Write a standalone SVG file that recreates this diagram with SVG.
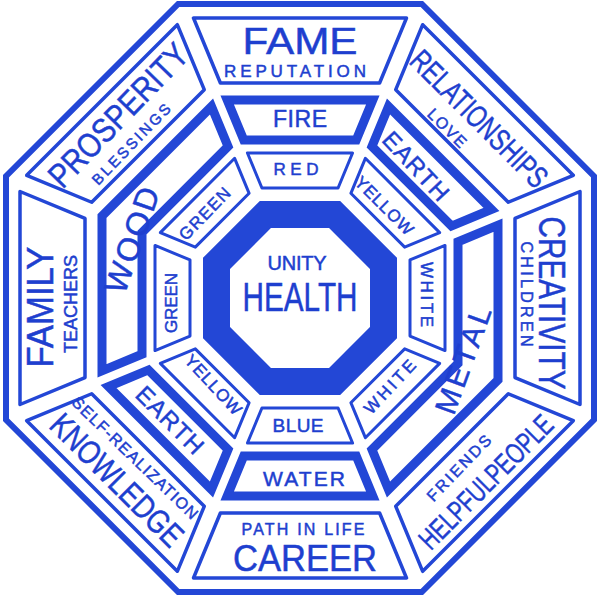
<svg xmlns="http://www.w3.org/2000/svg" width="600" height="602" viewBox="0 0 600 602">
<style>
.border{fill:none;stroke:#2347d6;stroke-width:6;stroke-linejoin:miter}
.outer{fill:#fff;stroke:#2347d6;stroke-width:3.5;stroke-linejoin:round}
.elem{fill:#fff;stroke:#2347d6;stroke-width:9;stroke-linejoin:miter}
.color{fill:#fff;stroke:#2347d6;stroke-width:3;stroke-linejoin:round}
.core{fill:#fff;stroke:#2347d6;stroke-width:27;stroke-linejoin:miter}
text{font-family:"Liberation Sans",Arial,sans-serif;fill:#1e3fcf;stroke:#1e3fcf;stroke-width:0.5;text-anchor:middle;dominant-baseline:central}
</style>
<defs>
<polygon id="trapO" points="193.5,18 406.5,18 379.6,83 220.4,83"/>
<polygon id="trapE" points="227.2,100 372.8,100 356.25,140 243.75,140"/>
<polygon id="trapC" points="247.44,153 352.56,153 338.06,188 261.94,188"/>
<polygon id="merged" points="211.5,106.5 102,215.99 102,370.8 142,354.25 142,232.55 228.05,146.5"/>
</defs>
<rect width="600" height="602" fill="#fff"/>
<polygon id="frame" class="border" points="178.22,4 421.78,4 594,176.22 594,419.78 421.78,592 178.22,592 6,419.78 6,176.22"/>

<g id="fame">
<use class="outer" href="#trapO"/>
<text x="300" y="41.5" font-size="37" textLength="115" lengthAdjust="spacingAndGlyphs">FAME</text>
<text x="295" y="71" font-size="17" textLength="142" lengthAdjust="spacing">REPUTATION</text>
</g>
<g id="relationships">
<use class="outer" href="#trapO" transform="rotate(45 300 298)"/>
<text x="479" y="119" font-size="31" textLength="180" lengthAdjust="spacingAndGlyphs" transform="rotate(45 479 119)">RELATIONSHIPS</text>
<text x="447" y="128" font-size="16" textLength="48" lengthAdjust="spacing" transform="rotate(45 447 128)">LOVE</text>
</g>
<g id="creativity">
<use class="outer" href="#trapO" transform="rotate(90 300 298)"/>
<text x="551" y="303" font-size="37" textLength="173" lengthAdjust="spacingAndGlyphs" transform="rotate(90 551 303)">CREATIVITY</text>
<text x="526" y="294" font-size="16" textLength="105" lengthAdjust="spacing" transform="rotate(90 526 294)">CHILDREN</text>
</g>
<g id="helpful-people">
<use class="outer" href="#trapO" transform="rotate(135 300 298)"/>
<text x="486" y="482" font-size="29" textLength="176" lengthAdjust="spacingAndGlyphs" transform="rotate(-45 486 482)">HELPFULPEOPLE</text>
<text x="459" y="468" font-size="16" textLength="85" lengthAdjust="spacing" transform="rotate(-46 459 468)">FRIENDS</text>
</g>
<g id="career">
<use class="outer" href="#trapO" transform="rotate(180 300 298)"/>
<text x="305" y="558" font-size="36" textLength="144" lengthAdjust="spacingAndGlyphs">CAREER</text>
<text x="303" y="529.5" font-size="16" textLength="123" lengthAdjust="spacing">PATH IN LIFE</text>
</g>
<g id="knowledge">
<use class="outer" href="#trapO" transform="rotate(225 300 298)"/>
<text x="117" y="480" font-size="33" textLength="173" lengthAdjust="spacingAndGlyphs" transform="rotate(45 117 480)">KNOWLEDGE</text>
<text x="135" y="458" font-size="16" textLength="168" lengthAdjust="spacing" transform="rotate(44 135 458)">SELF-REALIZATION</text>
</g>
<g id="family">
<use class="outer" href="#trapO" transform="rotate(270 300 298)"/>
<text x="40" y="307" font-size="36" textLength="121" lengthAdjust="spacingAndGlyphs" transform="rotate(-90 40 307)">FAMILY</text>
<text x="71" y="304" font-size="18" textLength="98" lengthAdjust="spacing" transform="rotate(-90 71 304)">TEACHERS</text>
</g>
<g id="prosperity">
<use class="outer" href="#trapO" transform="rotate(315 300 298)"/>
<text x="118" y="115" font-size="34" textLength="185" lengthAdjust="spacingAndGlyphs" transform="rotate(-46 118 115)">PROSPERITY</text>
<text x="131" y="144" font-size="15" textLength="106" lengthAdjust="spacing" transform="rotate(-46 131 144)">BLESSINGS</text>
</g>

<g id="fire">
<use class="elem" href="#trapE"/>
<text x="300" y="118.5" font-size="23" textLength="54" lengthAdjust="spacing">FIRE</text>
</g>
<g id="earth-ne">
<use class="elem" href="#trapE" transform="rotate(45 300 298)"/>
<text x="416" y="166" font-size="24" textLength="85" lengthAdjust="spacing" transform="rotate(47 416 166)">EARTH</text>
</g>
<g id="metal">
<use class="elem" href="#merged" transform="rotate(180 300 298)"/>
<text x="463" y="360" font-size="30" textLength="112" lengthAdjust="spacing" transform="rotate(-70 463 360)">METAL</text>
</g>
<g id="water">
<use class="elem" href="#trapE" transform="rotate(180 300 298)"/>
<text x="304" y="478.5" font-size="21" textLength="82" lengthAdjust="spacing">WATER</text>
</g>
<g id="earth-sw">
<use class="elem" href="#trapE" transform="rotate(225 300 298)"/>
<text x="170" y="420" font-size="24" textLength="85" lengthAdjust="spacing" transform="rotate(45 170 420)">EARTH</text>
</g>
<g id="wood">
<use class="elem" href="#merged"/>
<text x="132" y="240" font-size="32" textLength="110" lengthAdjust="spacing" transform="rotate(-71 132 240)">WOOD</text>
</g>

<g id="red">
<use class="color" href="#trapC"/>
<text x="296" y="169.5" font-size="17" textLength="45" lengthAdjust="spacing">RED</text>
</g>
<g id="yellow-ne">
<use class="color" href="#trapC" transform="rotate(45 300 298)"/>
<text x="384" y="206" font-size="17" textLength="75" lengthAdjust="spacing" transform="rotate(45 384 206)">YELLOW</text>
</g>
<g id="white-e">
<use class="color" href="#trapC" transform="rotate(90 300 298)"/>
<text x="426" y="294.5" font-size="17" textLength="65" lengthAdjust="spacing" transform="rotate(90 426 294.5)">WHITE</text>
</g>
<g id="white-se">
<use class="color" href="#trapC" transform="rotate(135 300 298)"/>
<text x="390" y="387" font-size="17" textLength="67" lengthAdjust="spacing" transform="rotate(-47 390 387)">WHITE</text>
</g>
<g id="blue">
<use class="color" href="#trapC" transform="rotate(180 300 298)"/>
<text x="298" y="425.5" font-size="19" textLength="51" lengthAdjust="spacing">BLUE</text>
</g>
<g id="yellow-sw">
<use class="color" href="#trapC" transform="rotate(225 300 298)"/>
<text x="213" y="385" font-size="17" textLength="75" lengthAdjust="spacing" transform="rotate(47 213 385)">YELLOW</text>
</g>
<g id="green-w">
<use class="color" href="#trapC" transform="rotate(270 300 298)"/>
<text x="171" y="303" font-size="17" textLength="60" lengthAdjust="spacing" transform="rotate(-90 171 303)">GREEN</text>
</g>
<g id="green-nw">
<use class="color" href="#trapC" transform="rotate(315 300 298)"/>
<text x="205" y="214" font-size="17" textLength="66" lengthAdjust="spacing" transform="rotate(-46 205 214)">GREEN</text>
</g>

<g id="center">
<polygon class="core" points="265.41,214.5 334.59,214.5 383.5,263.41 383.5,332.59 334.59,381.5 265.41,381.5 216.5,332.59 216.5,263.41"/>
<text x="297" y="262.5" font-size="20" textLength="59" lengthAdjust="spacing">UNITY</text>
<text x="300" y="297" font-size="41" textLength="115" lengthAdjust="spacingAndGlyphs">HEALTH</text>
</g>
</svg>
